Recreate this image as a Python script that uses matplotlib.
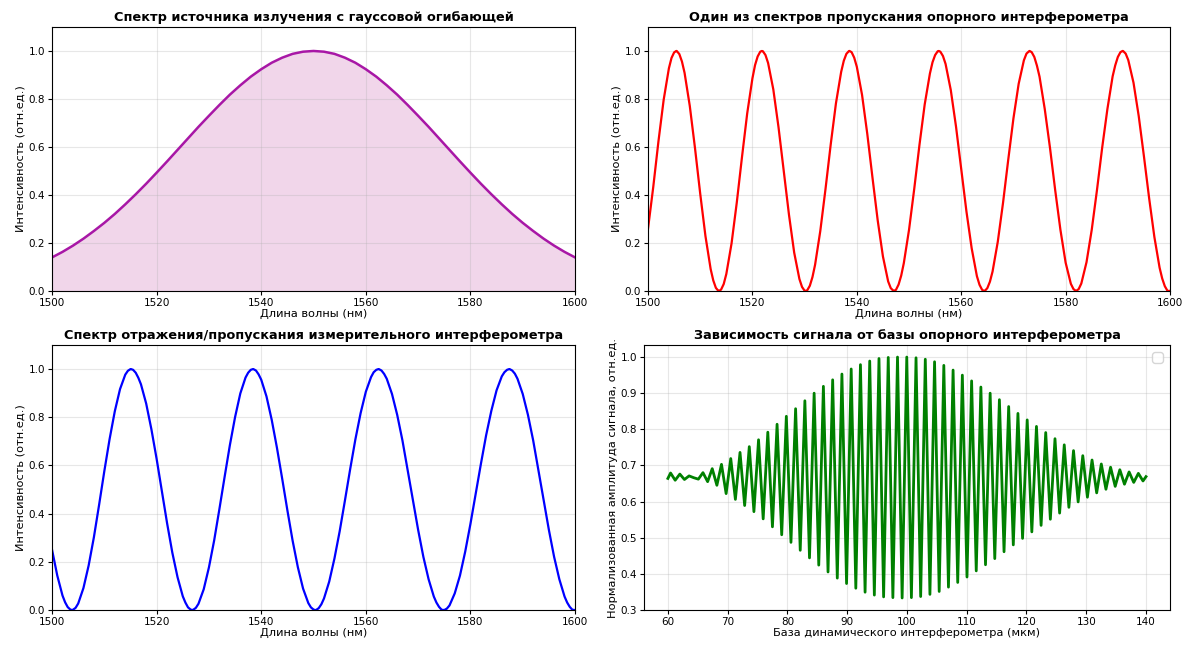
import matplotlib
matplotlib.use("Agg")
import matplotlib.pyplot as plt

# --- data ---

# source spectrum (gaussian envelope), nm -> rel. units
source_wl = [1500, 1502, 1504, 1506, 1508, 1510, 1512, 1514, 1516, 1518, 1520,
             1522, 1524, 1526, 1528, 1530, 1532, 1534, 1536, 1538, 1540,
             1542, 1544, 1546, 1548, 1550, 1552, 1554, 1556, 1558, 1560,
             1562, 1564, 1566, 1568, 1570, 1572, 1574, 1576, 1578, 1580,
             1582, 1584, 1586, 1588, 1590, 1592, 1594, 1596, 1598, 1600]
source_int = [0.140, 0.163, 0.189, 0.218, 0.250, 0.284, 0.321, 0.361, 0.403, 0.447, 0.493,
              0.540, 0.588, 0.636, 0.684, 0.730, 0.775, 0.818, 0.857, 0.893, 0.924,
              0.951, 0.972, 0.988, 0.997, 1.000, 0.997, 0.988, 0.972, 0.951, 0.924,
              0.893, 0.857, 0.818, 0.775, 0.730, 0.684, 0.636, 0.588, 0.540, 0.493,
              0.447, 0.403, 0.361, 0.321, 0.284, 0.250, 0.218, 0.189, 0.163, 0.140]

# reference interferometer transmission (red)
ref_points = [
    (1500, 0.26), (1501, 0.433), (1502, 0.624), (1503, 0.797), (1504, 0.928), (1504.5, 0.971),
    (1505, 0.994), (1505.4, 1.0), (1505.5, 1.0), (1506, 0.987), (1506.5, 0.956), (1507, 0.909),
    (1508, 0.771), (1509, 0.595), (1510, 0.405), (1511, 0.229), (1512, 0.091), (1512.5, 0.044),
    (1513, 0.013), (1513.5, 0.0), (1513.6, 0.0), (1514, 0.006), (1514.5, 0.029), (1515, 0.071),
    (1516, 0.198), (1517, 0.368), (1518, 0.558), (1519, 0.740), (1520, 0.886), (1520.5, 0.941),
    (1521, 0.977), (1521.5, 0.997), (1521.8, 1.0), (1522, 0.999), (1522.5, 0.983), (1523, 0.950),
    (1524, 0.840), (1525, 0.682), (1526, 0.500), (1527, 0.318), (1528, 0.160), (1529, 0.050),
    (1529.5, 0.017), (1530, 0.001), (1530.2, 0.0), (1530.5, 0.003), (1531, 0.022), (1531.5, 0.058),
    (1532, 0.109), (1533, 0.250), (1534, 0.425), (1535, 0.611), (1536, 0.782), (1537, 0.913),
    (1537.5, 0.959), (1538, 0.988), (1538.5, 1.0), (1538.6, 1.0), (1539, 0.995), (1539.5, 0.972),
    (1540, 0.934), (1541, 0.817), (1542, 0.655), (1543, 0.472), (1544, 0.294), (1545, 0.144),
    (1546, 0.040), (1546.5, 0.012), (1547, 0.001), (1547.1, 0.0), (1547.5, 0.005), (1548, 0.027),
    (1548.5, 0.064), (1549, 0.116), (1550, 0.255), (1551, 0.426), (1552, 0.609), (1553, 0.777),
    (1554, 0.906), (1554.5, 0.953), (1555, 0.983), (1555.5, 0.999), (1555.7, 1.0), (1556, 0.997),
    (1556.5, 0.979), (1557, 0.946), (1558, 0.837), (1559, 0.685), (1560, 0.509), (1561, 0.331),
    (1562, 0.178), (1563, 0.062), (1563.5, 0.026), (1564, 0.005), (1564.4, 0.0), (1564.5, 0.0),
    (1565, 0.012), (1565.5, 0.039), (1566, 0.081), (1567, 0.205), (1568, 0.366), (1569, 0.546),
    (1570, 0.719), (1571, 0.863), (1572, 0.961), (1572.5, 0.989), (1573, 0.999), (1573.1, 1.0),
    (1573.5, 0.995), (1574, 0.975), (1574.5, 0.939), (1575, 0.893), (1576, 0.758), (1577, 0.597),
    (1578, 0.420), (1579, 0.255), (1580, 0.118), (1581, 0.030), (1581.5, 0.008), (1582, 0.0),
    (1582.5, 0.008), (1583, 0.031), (1584, 0.120), (1585, 0.255), (1586, 0.420), (1587, 0.597),
    (1588, 0.758), (1589, 0.894), (1589.5, 0.940), (1590, 0.975), (1590.5, 0.995), (1590.9, 1.0),
    (1591, 1.0), (1591.5, 0.989), (1592, 0.962), (1593, 0.868), (1594, 0.729), (1595, 0.561),
    (1596, 0.386), (1597, 0.225), (1598, 0.097), (1598.5, 0.052), (1599, 0.020), (1599.5, 0.001),
    (1599.8, 0.0), (1600, 0.001),
]

# measuring interferometer reflection/transmission (blue)
meas_points = [
    (1500, 0.25), (1501, 0.143), (1502, 0.060), (1502.5, 0.032), (1503, 0.012), (1503.5, 0.002),
    (1503.8, 0.0), (1504, 0.001), (1504.5, 0.009), (1505, 0.027), (1506, 0.091), (1507, 0.185),
    (1508, 0.302), (1509, 0.437), (1510, 0.577), (1511, 0.709), (1512, 0.825), (1513, 0.917),
    (1514, 0.977), (1514.5, 0.993), (1515, 1.0), (1515.1, 1.0), (1515.5, 0.997), (1516, 0.985),
    (1516.5, 0.964), (1517, 0.937), (1518, 0.857), (1519, 0.750), (1520, 0.627), (1521, 0.494),
    (1522, 0.360), (1523, 0.238), (1524, 0.136), (1525, 0.057), (1525.5, 0.031), (1526, 0.011),
    (1526.5, 0.002), (1526.8, 0.0), (1527, 0.001), (1527.5, 0.009), (1528, 0.026), (1529, 0.086),
    (1530, 0.177), (1531, 0.289), (1532, 0.419), (1533, 0.553), (1534, 0.684), (1535, 0.801),
    (1536, 0.899), (1537, 0.965), (1537.5, 0.985), (1538, 0.997), (1538.4, 1.0), (1538.5, 1.0),
    (1539, 0.994), (1539.5, 0.978), (1540, 0.956), (1541, 0.887), (1542, 0.790), (1543, 0.674),
    (1544, 0.546), (1545, 0.414), (1546, 0.288), (1547, 0.178), (1548, 0.089), (1549, 0.029),
    (1549.5, 0.011), (1550, 0.002), (1550.3, 0.0), (1550.5, 0.0), (1551, 0.008), (1551.5, 0.024),
    (1552, 0.048), (1553, 0.118), (1554, 0.214), (1555, 0.327), (1556, 0.454), (1557, 0.584),
    (1558, 0.708), (1559, 0.817), (1560, 0.906), (1561, 0.967), (1561.5, 0.987), (1562, 0.997),
    (1562.4, 1.0), (1562.5, 1.0), (1563, 0.994), (1563.5, 0.980), (1564, 0.960), (1565, 0.897),
    (1566, 0.810), (1567, 0.704), (1568, 0.581), (1569, 0.456), (1570, 0.333), (1571, 0.221),
    (1572, 0.128), (1573, 0.056), (1573.5, 0.031), (1574, 0.013), (1574.5, 0.001), (1574.9, 0.0),
    (1575, 0.0), (1575.5, 0.006), (1576, 0.019), (1577, 0.069), (1578, 0.143), (1579, 0.242),
    (1580, 0.357), (1581, 0.481), (1582, 0.606), (1583, 0.725), (1584, 0.827), (1585, 0.912),
    (1586, 0.970), (1586.5, 0.987), (1587, 0.997), (1587.4, 1.0), (1587.5, 1.0), (1588, 0.994),
    (1588.5, 0.981), (1589, 0.960), (1590, 0.897), (1591, 0.810), (1592, 0.704), (1593, 0.581),
    (1594, 0.456), (1595, 0.333), (1596, 0.221), (1597, 0.128), (1598, 0.056), (1598.5, 0.031),
    (1599, 0.013), (1599.5, 0.001), (1599.9, 0.0), (1600, 0.0),
]

# signal vs reference interferometer base (green): extrema
signal_points = [
    (60.0, 0.664), (60.45, 0.679), (61.22, 0.659), (62.0, 0.676), (62.77, 0.661),
    (63.55, 0.671), (64.32, 0.666), (65.1, 0.662), (65.87, 0.680), (66.65, 0.655),
    (67.42, 0.691), (68.2, 0.645),
    (68.97, 0.703), (69.745, 0.622), (70.52, 0.719), (71.295, 0.606), (72.07, 0.736),
    (72.845, 0.589), (73.62, 0.752), (74.395, 0.572), (75.17, 0.771), (75.945, 0.552),
    (76.72, 0.792), (77.495, 0.530), (78.27, 0.814), (79.045, 0.508), (79.82, 0.836),
    (80.595, 0.487), (81.37, 0.857), (82.145, 0.465), (82.92, 0.879), (83.695, 0.444),
    (84.47, 0.900), (85.245, 0.424), (86.02, 0.919), (86.795, 0.405), (87.57, 0.937),
    (88.345, 0.388), (89.12, 0.953), (89.895, 0.373), (90.67, 0.967), (91.445, 0.360),
    (92.22, 0.979), (92.995, 0.349), (93.77, 0.989), (94.545, 0.341), (95.32, 0.996),
    (96.095, 0.336), (96.87, 0.999), (97.645, 0.334), (98.42, 1.000), (99.195, 0.333),
    (99.97, 1.000), (100.745, 0.334), (101.52, 0.998), (102.295, 0.337), (103.07, 0.994),
    (103.845, 0.343), (104.62, 0.987), (105.395, 0.351), (106.17, 0.977), (106.945, 0.363),
    (107.72, 0.964), (108.495, 0.376), (109.27, 0.950), (110.045, 0.391), (110.82, 0.934),
    (111.595, 0.408), (112.37, 0.917), (113.145, 0.425), (113.92, 0.900), (114.695, 0.442),
    (115.47, 0.882), (116.245, 0.461), (117.02, 0.863), (117.795, 0.480), (118.57, 0.844),
    (119.345, 0.498), (120.12, 0.826), (120.895, 0.516), (121.67, 0.808), (122.445, 0.534),
    (123.22, 0.791), (123.995, 0.551), (124.77, 0.774), (125.545, 0.568), (126.32, 0.757),
    (127.095, 0.584), (127.87, 0.741), (128.645, 0.599), (129.42, 0.727), (130.195, 0.612),
    (130.97, 0.715), (131.745, 0.624), (132.52, 0.704), (133.295, 0.634), (134.07, 0.695),
    (134.845, 0.642), (135.62, 0.688), (136.395, 0.648), (137.17, 0.682), (137.945, 0.653),
    (138.72, 0.678), (139.495, 0.657), (140.0, 0.669),
]

ref_wl, ref_int = zip(*ref_points)
meas_wl, meas_int = zip(*meas_points)
base_um, signal = zip(*signal_points)

wl_ticks = [1500, 1520, 1540, 1560, 1580, 1600]

TITLE_FS = 9.3
LABEL_FS = 8.2
TICK_FS = 7.5

fig, axes = plt.subplots(2, 2, figsize=(11.91, 6.5), dpi=100)
ax1, ax2 = axes[0]
ax3, ax4 = axes[1]

ax1.set_position([0.0437, 0.5523, 0.4391, 0.4062])
ax2.set_position([0.5441, 0.5523, 0.4383, 0.4062])
ax3.set_position([0.0437, 0.0615, 0.4391, 0.4077])
ax4.set_position([0.5407, 0.0615, 0.4416, 0.4077])

# 1. source spectrum
ax1.fill_between(source_wl, source_int, color='#f1d6ea')
ax1.plot(source_wl, source_int, color='#a817a6', linewidth=1.8)
ax1.set_title('Спектр источника излучения с гауссовой огибающей')

# 2. reference interferometer
ax2.plot(ref_wl, ref_int, color='red', linewidth=1.6)
ax2.set_title('Один из спектров пропускания опорного интерферометра')

# 3. measuring interferometer
ax3.plot(meas_wl, meas_int, color='blue', linewidth=1.6)
ax3.set_title('Спектр отражения/пропускания измерительного интерферометра')

for ax in (ax1, ax2, ax3):
    ax.set_xlim(1500, 1600)
    ax.set_ylim(0, 1.1)
    ax.set_xticks(wl_ticks)
    ax.set_yticks([0.0, 0.2, 0.4, 0.6, 0.8, 1.0])
    ax.set_xlabel('Длина волны (нм)', fontsize=LABEL_FS, labelpad=1)
    ax.set_ylabel('Интенсивность (отн.ед.)', fontsize=LABEL_FS, labelpad=2)

# 4. signal vs base
ax4.plot(base_um, signal, color='green', linewidth=2)
ax4.set_title('Зависимость сигнала от базы опорного интерферометра')
ax4.set_xlabel('База динамического интерферометра (мкм)', fontsize=LABEL_FS, labelpad=1)
ax4.set_ylabel('Нормализованная амплитуда сигнала, отн.ед.', fontsize=LABEL_FS, labelpad=2)
ax4.set_xticks([60, 70, 80, 90, 100, 110, 120, 130, 140])
ax4.set_yticks([0.3, 0.4, 0.5, 0.6, 0.7, 0.8, 0.9, 1.0])
ax4.legend(handles=[], loc='upper right')

for ax in axes.flat:
    ax.grid(True, alpha=0.3)
    ax.tick_params(labelsize=TICK_FS, length=3, pad=2)
    ax.set_title(ax.get_title(), fontsize=TITLE_FS, fontweight='bold', pad=4)

fig.savefig('out.png', dpi=100)
